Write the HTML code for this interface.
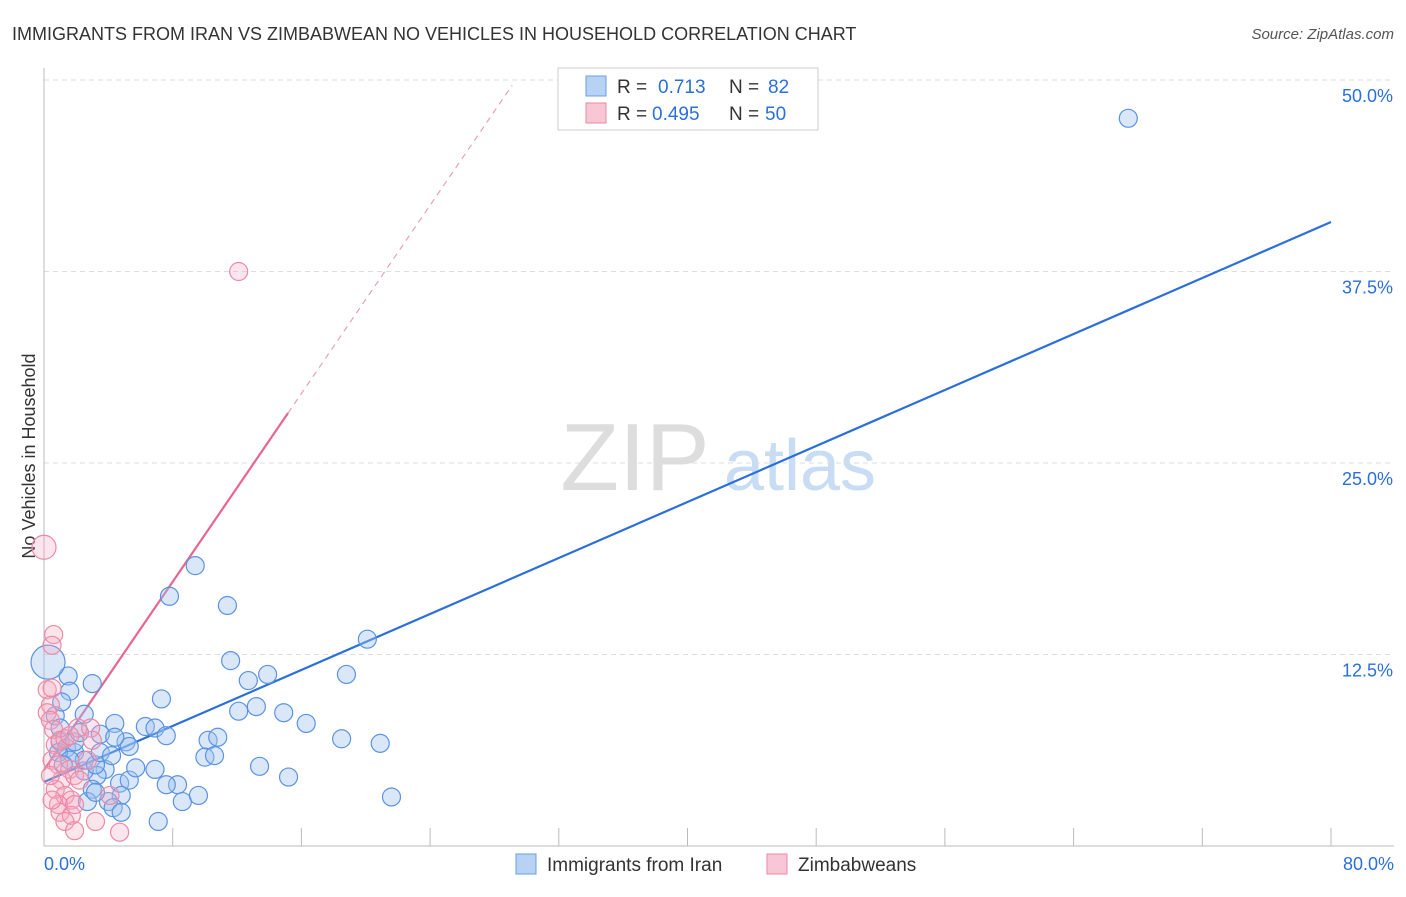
<!DOCTYPE html>
<html><head><meta charset="utf-8"><style>
body{margin:0;background:#fff;font-family:"Liberation Sans",sans-serif;}
svg text{font-family:"Liberation Sans",sans-serif;}
</style></head><body>
<svg id="chart" width="1406" height="892" xmlns="http://www.w3.org/2000/svg">
<text x="12" y="40" font-size="18" fill="#333">IMMIGRANTS FROM IRAN VS ZIMBABWEAN NO VEHICLES IN HOUSEHOLD CORRELATION CHART</text>
<text x="1394" y="39" font-size="15" fill="#555" font-style="italic" text-anchor="end">Source: ZipAtlas.com</text>
<text x="35" y="456" font-size="18" fill="#333" text-anchor="middle" transform="rotate(-90 35 456)">No Vehicles in Household</text>
<g><text x="635" y="490" font-size="96" fill="#ddd" font-family="Liberation Serif" text-anchor="middle">ZIP</text><text x="800" y="490" font-size="72" fill="#c8dcf3" text-anchor="middle">atlas</text></g>
<g id="grid"></g><g id="axes"></g><g id="lines"></g><g id="pts"></g>
<g>
<rect x="558" y="68" width="260" height="62" fill="#fff" stroke="#ccc"/>
<rect x="586" y="76" width="20" height="20" fill="#b8d2f3" stroke="#6a9de0"/>
<text x="617" y="93" font-size="19" fill="#333">R =</text><text x="658" y="93" font-size="19" fill="#2a6fdb">0.713</text>
<text x="729" y="93" font-size="19" fill="#333">N =</text><text x="768" y="93" font-size="19" fill="#2a6fdb">82</text>
<rect x="586" y="103" width="20" height="20" fill="#f8c6d4" stroke="#e98aa6"/>
<text x="617" y="120" font-size="19" fill="#333">R =</text><text x="652" y="120" font-size="19" fill="#2a6fdb">0.495</text>
<text x="729" y="120" font-size="19" fill="#333">N =</text><text x="765" y="120" font-size="19" fill="#2a6fdb">50</text>
</g>
<g>
<rect x="516" y="854" width="20" height="20" fill="#b8d2f3" stroke="#6a9de0"/>
<text x="547" y="871" font-size="19" fill="#333">Immigrants from Iran</text>
<rect x="767" y="854" width="20" height="20" fill="#f8c6d4" stroke="#e98aa6"/>
<text x="798" y="871" font-size="19" fill="#333">Zimbabweans</text>
</g>
</svg>
<script>
const yTicks=[12.5,25,37.5,50];
const yTickLabels=["12.5%","25.0%","37.5%","50.0%"];
const xTickLabels=["0.0%","80.0%"];
const blueX=[67.4,9.4,7.8,11.4,11.6,20.1,13.9,18.8,12.7,7.3,12.1,13.2,14.9,16.3,3.0,1.5,1.6,0.7,2.5,4.4,6.3,6.9,7.6,5.1,3.5,10.2,10.8,18.5,20.9,5.3,10.0,10.6,13.4,15.2,21.6,6.9,8.3,7.6,8.6,9.6,7.1,3.8,4.7,5.3,4.8,3.3,2.5,3.0,2.7,4.0,4.3,4.8,1.0,1.4,1.9,2.5,3.2,1.9,2.2,3.5,1.0,1.1,0.9,1.6,1.2,4.2,4.4,5.7,3.2];
const blueY=[47.5,18.3,16.3,15.7,12.1,13.5,11.2,11.2,10.8,9.6,8.8,9.1,8.7,8.0,10.6,11.1,10.1,8.5,8.6,8.0,7.8,7.7,7.2,6.8,7.3,6.9,7.1,7.0,6.7,6.5,5.8,5.9,5.2,4.5,3.2,5.0,4.0,4.0,2.9,3.3,1.6,5.0,4.1,4.3,3.3,4.6,4.9,3.7,2.9,2.9,2.5,2.2,6.8,6.4,6.1,5.6,5.3,6.8,7.4,6.1,7.7,9.4,6.1,5.6,5.3,5.9,7.1,5.1,3.5];
const pinkX=[12.1,0.6,0.5,0.2,0.5,0.4,0.2,0.4,0.6,0.7,1.0,2.1,1.3,1.6,2.9,0.5,0.9,1.6,1.1,1.9,0.7,1.3,1.7,0.9,1.0,1.7,1.3,1.9,3.2,4.7,2.7,3.0,2.2,0.4,4.1,1.9,0.5];
const pinkY=[37.5,13.8,13.1,10.2,10.3,9.2,8.7,8.2,7.6,6.6,6.9,7.7,7.0,7.2,7.7,5.6,5.3,5.0,4.3,4.6,3.7,3.3,3.0,2.7,2.2,2.0,1.6,1.0,1.6,0.9,5.6,6.9,4.3,4.6,3.3,2.7,3.0];
const blueLine=[4.18,40.73];
const pinkLine=[4.96,28.26,15.17,29.1];
const NS="http://www.w3.org/2000/svg";
const sx=v=>44+v*1287/80, sy=v=>846-v*191.5/12.5;
function mk(t,a,p){const e=document.createElementNS(NS,t);for(const k in a)e.setAttribute(k,a[k]);p.appendChild(e);return e;}
const grid=document.getElementById('grid'),axes=document.getElementById('axes'),lines=document.getElementById('lines'),pts=document.getElementById('pts');
yTicks.forEach((t,i)=>{
 const l=mk('line',{x1:44,x2:1394,y1:sy(t),y2:sy(t),stroke:'#ddd','stroke-dasharray':'5,4'},grid);
 
 
 const tx=mk('text',{x:1393,y:sy(t)+22,'font-size':18,fill:'#2a6fdb','text-anchor':'end'},axes);
 tx.textContent=yTickLabels[i];
 
 
});
mk('line',{x1:44,x2:44,y1:68,y2:846,stroke:'#bbb'},axes);
mk('line',{x1:44,x2:1394,y1:846,y2:846,stroke:'#bbb'},axes);
for(let i=1;i<=10;i++){const l=mk('line',{x1:sx(i*8),x2:sx(i*8),y1:828,y2:846,stroke:'#bbb'},axes);}
let t0=mk('text',{x:44,y:870,'font-size':18,fill:'#2a6fdb'},axes);t0.textContent=xTickLabels[0];


let t1=mk('text',{x:1394,y:870,'font-size':18,fill:'#2a6fdb','text-anchor':'end'},axes);t1.textContent=xTickLabels[1];


function dot(x,y,r,fill,stroke,name){const c=mk('circle',{cx:sx(x),cy:sy(y),r:r,fill:fill,stroke:stroke,'stroke-width':1.2},pts);
 
 }
blueX.forEach((x,i)=>dot(x,blueY[i],9,'rgba(160,195,240,0.4)','#5b93e0','point-iran'));
dot(0.25,12.0,17,'rgba(160,195,240,0.4)','#5b93e0','point-iran');
pinkX.forEach((x,i)=>dot(x,pinkY[i],9,'rgba(246,170,192,0.3)','#ec8aa6','point-zimbabwe'));
dot(0,19.5,12,'rgba(246,170,192,0.3)','#ec8aa6','point-zimbabwe');
const bl=mk('line',{x1:sx(0),y1:sy(blueLine[0]),x2:sx(80),y2:sy(blueLine[1]),stroke:'#2a6fdb','stroke-width':2.2},lines);


const slope=(pinkLine[1]-pinkLine[0])/pinkLine[2];
const pl=mk('line',{x1:sx(0),y1:sy(pinkLine[0]),x2:sx(pinkLine[2]),y2:sy(pinkLine[1]),stroke:'#e8658f','stroke-width':2.2},lines);


const pd=mk('line',{x1:sx(pinkLine[2]),y1:sy(pinkLine[1]),x2:sx(pinkLine[3]),y2:sy(pinkLine[0]+slope*pinkLine[3]),stroke:'#eaa0b6','stroke-width':1.2,'stroke-dasharray':'6,5'},lines);


</script>
</body></html>
